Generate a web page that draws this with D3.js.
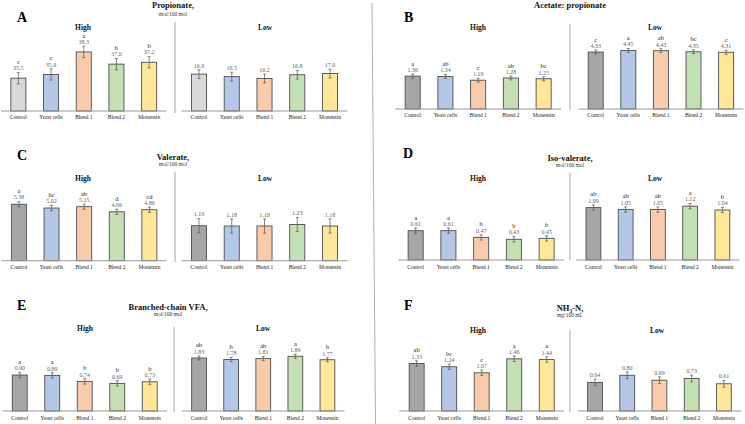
<!DOCTYPE html>
<html><head><meta charset="utf-8">
<script src="https://cdn.jsdelivr.net/npm/d3@7"></script>
<style>html,body{margin:0;padding:0;background:#fff;}svg{display:block;}</style>
</head><body>
<svg id="c" width="745" height="424"></svg>
<script>
const categories = ["Control", "Yeast cells", "Blend 1", "Blend 2", "Monensin"];

// A: Propionate, mol/100 mol
const propHigh = [35.5, 35.9, 38.3, 37.0, 37.2];
const propHighSig = ["c", "c", "a", "b", "b"];
const propLow = [16.9, 16.5, 16.2, 16.8, 17.0];
const propLowSig = null;
// B: Acetate: propionate
const acpHigh = [1.36, 1.34, 1.19, 1.28, 1.25];
const acpHighSig = ["a", "ab", "c", "ab", "bc"];
const acpLow = [4.33, 4.45, 4.43, 4.35, 4.31];
const acpLowSig = ["c", "a", "ab", "bc", "c"];
// C: Valerate
const valHigh = [5.38, 5.02, 5.15, 4.66, 4.86];
const valHighSig = ["a", "bc", "ab", "d", "cd"];
const valLow = [1.19, 1.18, 1.18, 1.23, 1.18];
const valLowSig = null;
// D: Iso-valerate
const isoHigh = [0.61, 0.61, 0.47, 0.43, 0.45];
const isoHighSig = ["a", "a", "b", "b", "b"];
const isoLow = [1.09, 1.05, 1.05, 1.12, 1.04];
const isoLowSig = ["ab", "ab", "ab", "a", "b"];
// E: Branched-chain VFA
const bcHigh = [0.90, 0.89, 0.74, 0.69, 0.73];
const bcHighSig = ["a", "a", "b", "b", "b"];
const bcLow = [1.83, 1.78, 1.81, 1.89, 1.77];
const bcLowSig = ["ab", "b", "ab", "a", "b"];
// F: NH3-N
const nhHigh = [1.33, 1.24, 1.07, 1.46, 1.44];
const nhHighSig = ["ab", "bc", "c", "a", "a"];
const nhLow = [0.64, 0.80, 0.69, 0.73, 0.61];
const nhLowSig = null;
// error (SEM) per panel
const semHigh = [0.6, 0.08, 0.25, 0.055, 0.067, 0.075];
const semLow = [0.7, 0.15, 0.24, 0.055, 0.07, 0.075];

const barColors = ["#a6a6a6", "#b4c7e7", "#f8cbad", "#c5e0b4", "#ffe699"];
const barColorsA = ["#d9d9d9", "#b4c7e7", "#f8cbad", "#c5e0b4", "#ffe699"];

const panels = [
  {id:"A", title:"Propionate,", sub:"mol/100 mol", high:propHigh, highSig:propHighSig, low:propLow, lowSig:propLowSig, dec:1, colors:barColorsA,
   letterX:17, letterY:22, titleX:173, titleY:8, subY:16, hlY:29.5, divX:175, divY:[22,113], base:111, catY:119,
   hx:[2,165.5], lx:[182.6,346.4], hHighX:83, hLowX:265, hdom:[32,40], ldom:[11,23]},
  {id:"B", title:"Acetate: propionate", sub:null, high:acpHigh, highSig:acpHighSig, low:acpLow, lowSig:acpLowSig, dec:2, colors:barColors,
   letterX:404, letterY:22, titleX:570, titleY:8, subY:null, hlY:29.5, divX:570, divY:[24,110], base:109, catY:117,
   hx:[396.3,560], lx:[579.4,742.4], hHighX:478, hLowX:655, hdom:[0,3.1], ldom:[0,5.7]},
  {id:"C", title:"Valerate,", sub:"mol/100 mol", high:valHigh, highSig:valHighSig, low:valLow, lowSig:valLowSig, dec:2, colors:barColors,
   letterX:17, letterY:160, titleX:173, titleY:160, subY:166, hlY:180.5, divX:175, divY:[172,262], base:260.7, catY:269,
   hx:[2.6,165.7], lx:[182.6,346.4], hHighX:83, hLowX:265, hdom:[0,7.15], ldom:[0,2.55]},
  {id:"D", title:"Iso-valerate,", sub:"mol/100 mol", high:isoHigh, highSig:isoHighSig, low:isoLow, lowSig:isoLowSig, dec:2, colors:barColors,
   letterX:403, letterY:158, titleX:570, titleY:161, subY:167, hlY:180.5, divX:570, divY:[173,260], base:260, catY:269,
   hx:[399.3,563], lx:[577.3,738.5], hHighX:478, hLowX:655, hdom:[0,1.56], ldom:[0,1.56]},
  {id:"E", title:"Branched-chain VFA,", sub:"mol/100 mol", high:bcHigh, highSig:bcHighSig, low:bcLow, lowSig:bcLowSig, dec:2, colors:barColors,
   letterX:17, letterY:310, titleX:168, titleY:310, subY:316, hlY:330.5, divX:174, divY:[327,412], base:411, catY:419.5,
   hx:[3.5,166], lx:[183,343.5], hHighX:85, hLowX:263, hdom:[0,1.875], ldom:[0,2.59]},
  {id:"F", title:"NH3-N,", sub:"mg/100 mL", high:nhHigh, highSig:nhHighSig, low:nhLow, lowSig:nhLowSig, dec:2, colors:barColors,
   letterX:404, letterY:310, titleX:570, titleY:311, subY:317, hlY:332.5, divX:570, divY:[330,412], base:411, catY:419.5,
   hx:[400.4,563], lx:[578.9,740], hHighX:478, hLowX:657, hdom:[0,2.1], ldom:[0,1.68]}
];

const svg = d3.select("#c");
const serif = "'Liberation Serif','Times New Roman',serif";
const H = 75;

// column separator
svg.append("line").attr("x1",372).attr("y1",3).attr("x2",375.5).attr("y2",424)
  .attr("stroke","#b0b0b0").attr("stroke-width",1);

panels.forEach((p, pi) => {
  const g = svg.append("g");
  g.append("text").attr("x",p.letterX).attr("y",p.letterY).text(p.id)
    .attr("font-family",serif).attr("font-weight","bold").attr("font-size",14).attr("fill","#000");
  const t = g.append("text").attr("x",p.titleX).attr("y",p.titleY).attr("text-anchor","middle")
    .attr("font-family",serif).attr("font-weight","bold").attr("font-size",8.5).attr("fill","#111");
  if (p.id === "F") {
    t.append("tspan").text("NH");
    t.append("tspan").text("3").attr("font-size",5.5).attr("dy",1.5);
    t.append("tspan").text("-N,").attr("dy",-1.5);
  } else t.text(p.title);
  if (p.sub) g.append("text").attr("x",p.titleX).attr("y",p.subY).attr("text-anchor","middle")
    .attr("font-family",serif).attr("font-size",5.5).attr("fill","#333").text(p.sub);
  g.append("line").attr("x1",p.divX).attr("x2",p.divX).attr("y1",p.divY[0]).attr("y2",p.divY[1])
    .attr("stroke","#a6a6a6").attr("stroke-width",1);

  const subs = [
    {name:"High", vals:p.high, sig:p.highSig, xr:p.hx, lx:p.hHighX, dom:p.hdom, sem:semHigh[pi]},
    {name:"Low", vals:p.low, sig:p.lowSig, xr:p.lx, lx:p.hLowX, dom:p.ldom, sem:semLow[pi]}
  ];
  subs.forEach(s => {
    const x = d3.scaleBand().domain(categories).range(s.xr).paddingInner(0.54).paddingOuter(0.27);
    const y = d3.scaleLinear().domain(s.dom).range([p.base, p.base - H]);
    g.append("text").attr("x",s.lx).attr("y",p.hlY).attr("text-anchor","middle")
      .attr("font-family",serif).attr("font-weight","bold").attr("font-size",7.5).attr("fill","#111").text(s.name);
    const data = categories.map((c,i)=>({c, v:s.vals[i], sig:s.sig ? s.sig[i] : null, i}));
    g.selectAll(null).data(data).enter().append("rect")
      .attr("x",d=>x(d.c)).attr("width",x.bandwidth())
      .attr("y",d=>y(d.v)).attr("height",d=>p.base - y(d.v))
      .attr("fill",d=>p.colors[d.i]).attr("stroke","#4d4d4d").attr("stroke-width",0.9);
    // axis
    const ax = g.append("g").attr("transform",`translate(0,${p.base})`)
      .call(d3.axisBottom(x).tickSize(0).tickPadding(6));
    ax.select(".domain").attr("stroke","#9a9a9a").attr("stroke-width",1)
      .attr("d",`M${s.xr[0]-1},0H${s.xr[1]+1}`);
    ax.selectAll("text").attr("font-family",serif).attr("font-size",5.5).attr("fill","#222")
      .attr("dy",null).attr("y",p.catY - p.base);
    // error bars
    data.forEach(d => {
      const cx = x(d.c) + x.bandwidth()/2;
      const yt = y(d.v + s.sem), yb = y(d.v - s.sem);
      const eb = g.append("g").attr("stroke","#555").attr("stroke-width",0.7);
      eb.append("line").attr("x1",cx).attr("x2",cx).attr("y1",yt).attr("y2",yb);
      eb.append("line").attr("x1",cx-1.5).attr("x2",cx+1.5).attr("y1",yt).attr("y2",yt);
      eb.append("line").attr("x1",cx-1.5).attr("x2",cx+1.5).attr("y1",yb).attr("y2",yb);
      g.append("text").attr("x",cx).attr("y",yt-2.2).attr("text-anchor","middle")
        .attr("font-family",serif).attr("font-size",6).attr("fill","#666").text(d.v.toFixed(p.dec));
      if (d.sig) g.append("text").attr("x",cx).attr("y",yt-8.5).attr("text-anchor","middle")
        .attr("font-family",serif).attr("font-size",6.5).attr("fill","#222").text(d.sig);
    });
  });
});
</script>
</body></html>
